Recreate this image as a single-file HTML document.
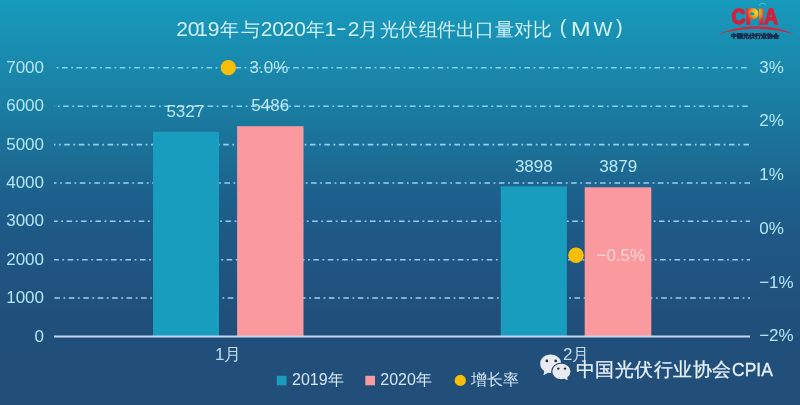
<!DOCTYPE html>
<html>
<head>
<meta charset="utf-8">
<style>
html,body{margin:0;padding:0;}
body{width:800px;height:405px;overflow:hidden;position:relative;
  background:linear-gradient(to bottom,#179abc 0px,#1a82a6 90px,#1c6b93 165px,#1d5f8c 200px,#1f5885 240px,#214f7b 315px,#214f7a 405px);
  font-family:"Liberation Sans",sans-serif;}
svg{position:absolute;left:0;top:0;filter:blur(0.4px);}
text{font-family:"Liberation Sans",sans-serif;}
.ax{fill:#b4e6f8;font-size:17px;}
.vl{fill:#bce8f8;font-size:17px;}
.cat{fill:#c5d9ec;font-size:17px;}
.tt{fill:#d2f1fb;}
.lg{fill:#d6e6f6;font-size:16px;}
.wm{fill:#e8f0fa;stroke:#e8f0fa;stroke-width:0.3px;}
</style>
</head>
<body>
<svg width="800" height="405" viewBox="0 0 800 405">
  <!-- gridlines -->
  <g stroke-width="1.6" stroke-dasharray="5.6 3.55 1.8 3.5" fill="none">
    <line x1="54" y1="67.7" x2="750" y2="67.7" stroke="#86d4f2" stroke-dashoffset="6.45"/>
    <line x1="54" y1="106.2" x2="750" y2="106.2" stroke="#8bd2f2" stroke-dashoffset="5.32"/>
    <line x1="54" y1="144.6" x2="750" y2="144.6" stroke="#91d1f1" stroke-dashoffset="4.19"/>
    <line x1="54" y1="183" x2="750" y2="183" stroke="#96cff1" stroke-dashoffset="3.06"/>
    <line x1="54" y1="221.2" x2="750" y2="221.2" stroke="#9bcdf1" stroke-dashoffset="1.93"/>
    <line x1="54" y1="259.7" x2="750" y2="259.7" stroke="#a1ccf0" stroke-dashoffset="0.80"/>
    <line x1="54" y1="298" x2="750" y2="298" stroke="#a6caf0" stroke-dashoffset="-0.33"/>
  </g>
  <!-- bars -->
  <rect x="153" y="131.8" width="66" height="204.7" fill="#189dbe"/>
  <rect x="237.1" y="126.2" width="66.4" height="210.3" fill="#fa9a9e"/>
  <rect x="500.8" y="186.4" width="66.1" height="150.1" fill="#189dbe"/>
  <rect x="584.7" y="187.3" width="66.6" height="149.2" fill="#fa9a9e"/>
  <!-- axis -->
  <line x1="54" y1="336.5" x2="750" y2="336.5" stroke="#c4d8ec" stroke-width="2"/>
  <!-- dots -->
  <circle cx="228.3" cy="67.7" r="7.6" fill="#f9bf08"/>
  <circle cx="576" cy="255.2" r="7.8" fill="#f9bf08"/>

  <!-- left axis labels -->
  <g class="ax" text-anchor="end">
    <text x="44" y="72.6">7000</text>
    <text x="44" y="111.1">6000</text>
    <text x="44" y="149.5">5000</text>
    <text x="44" y="187.9">4000</text>
    <text x="44" y="226.3">3000</text>
    <text x="44" y="264.7">2000</text>
    <text x="44" y="303.1">1000</text>
    <text x="44" y="341.5">0</text>
  </g>
  <!-- right axis labels -->
  <g class="ax">
    <text x="759.2" y="72.6">3%</text>
    <text x="759.2" y="126.4">2%</text>
    <text x="759.2" y="180.2">1%</text>
    <text x="759.2" y="234">0%</text>
    <text x="759.2" y="287.8">−1%</text>
    <text x="759.2" y="341.2">−2%</text>
  </g>
  <!-- value labels -->
  <g class="vl" text-anchor="middle">
    <text x="185.3" y="116.6">5327</text>
    <text x="270.2" y="110.5">5486</text>
    <text x="533.8" y="171.8">3898</text>
    <text x="618.2" y="172">3879</text>
  </g>
  <text class="vl" x="249.5" y="72.8">3.0%</text>
  <text x="596.5" y="260.9" style="fill:#fbd6d9;font-size:17px">−0.5%</text>

  <!-- category labels -->
  <g class="cat">
    <text x="215" y="360.3">1月</text>
    <text x="563" y="360.2">2月</text>
  </g>

  <!-- title -->
  <g class="tt">
    <text x="176.2 187.7 196.2 207.8" y="36.4" style="font-size:21px">2019</text>
    <text x="220 241" y="36.4" style="font-size:19px">年与</text>
    <text x="260.7 272.2 282.65 294.2" y="36.4" style="font-size:21px">2020</text>
    <text x="306" y="36.4" style="font-size:19px">年</text>
    <text x="324.4" y="36.4" style="font-size:21px">1</text>
    <text x="335.9" y="34.9" textLength="10.8" lengthAdjust="spacingAndGlyphs" style="font-size:21px">-</text>
    <text x="347.65" y="36.4" style="font-size:21px">2</text>
    <text x="359" y="36.4" style="font-size:19px">月</text>
    <text x="380 399 418.5 437 456 475 494.5 513.5 533" y="36.4" style="font-size:19px">光伏组件出口量对比</text>
    <text x="559.8" y="34" style="font-size:20px">(</text>
    <text x="571" y="36.4" style="font-size:20px" textLength="19.6" lengthAdjust="spacingAndGlyphs">M</text>
    <text x="593.4" y="36.4" style="font-size:20px">W</text>
    <text x="615.9" y="34" style="font-size:20px">)</text>
  </g>

  <!-- legend -->
  <rect x="276.8" y="375.8" width="9.7" height="9.5" fill="#189dbe"/>
  <text class="lg" x="292" y="385.1">2019年</text>
  <rect x="365.3" y="375.8" width="9.7" height="9.5" fill="#fa9a9e"/>
  <text class="lg" x="380.3" y="385.1">2020年</text>
  <circle cx="460.3" cy="380.4" r="5.6" fill="#f9bf08"/>
  <text class="lg" x="470.5" y="385.1">增长率</text>

  <!-- watermark -->
  <g>
    <path d="M550.7,354.6 C544.8,354.6 540.2,358.7 540.2,363.8 C540.2,366.8 541.8,369.4 544.3,371.1 L543.4,375.2 L548.2,372.7 C549,372.9 549.9,373 550.7,373 C556.6,373 561.2,368.9 561.2,363.8 C561.2,358.7 556.6,354.6 550.7,354.6 Z" fill="#e8ebf2"/>
    <path d="M561.4,363.2 C556,363.2 551.7,366.9 551.7,371.5 C551.7,376.1 556,379.8 561.4,379.8 C562.4,379.8 563.3,379.7 564.2,379.4 L568.4,381.4 L567.9,377.6 C569.9,376.1 571.1,373.9 571.1,371.5 C571.1,366.9 566.8,363.2 561.4,363.2 Z" fill="#e8ebf2" stroke="#2a4a6e" stroke-width="1.2"/>
    <circle cx="546.9" cy="360.9" r="1.35" fill="#25303c"/>
    <circle cx="555.7" cy="360.9" r="1.35" fill="#25303c"/>
    <circle cx="558.3" cy="368.6" r="1.2" fill="#25303c"/>
    <circle cx="565" cy="368.6" r="1.2" fill="#25303c"/>
  </g>
  <text class="wm" x="576.00 595.43 614.86 634.29 653.72 673.15 692.58 712.01" y="376.3" style="font-size:19px">中国光伏行业协会</text>
  <text class="wm" x="732.1" y="376.3" textLength="40.7" lengthAdjust="spacingAndGlyphs" style="font-size:18px">CPIA</text>

  <!-- CPIA logo -->
  <defs>
    <radialGradient id="cpg" cx="756" cy="12.5" r="12.5" gradientUnits="userSpaceOnUse">
      <stop offset="0" stop-color="#fbd21c"/>
      <stop offset="0.35" stop-color="#f3a420"/>
      <stop offset="0.7" stop-color="#e23a30"/>
      <stop offset="1" stop-color="#d61d3c"/>
    </radialGradient>
  </defs>
  <g>
    <path d="M759,5.2 Q762,1.6 766,4.6" stroke="#8fc4d8" stroke-width="0.9" fill="none" opacity="0.7"/>
    <text x="731.5" y="24.2" textLength="46.5" lengthAdjust="spacingAndGlyphs" style="font-size:22px;font-weight:bold;fill:url(#cpg);stroke:url(#cpg);stroke-width:1.3">CPIA</text>
    <path d="M717,34.6 Q757,18 795,34.4 Q757,23.2 717,34.6 Z" fill="#d9243a"/>
    <text x="730.8" y="38" textLength="48.4" lengthAdjust="spacingAndGlyphs" style="font-size:6.2px;font-weight:bold;fill:#1a2c48;stroke:#1a2c48;stroke-width:0.5">中国光伏行业协会</text>
  </g>
</svg>
</body>
</html>
